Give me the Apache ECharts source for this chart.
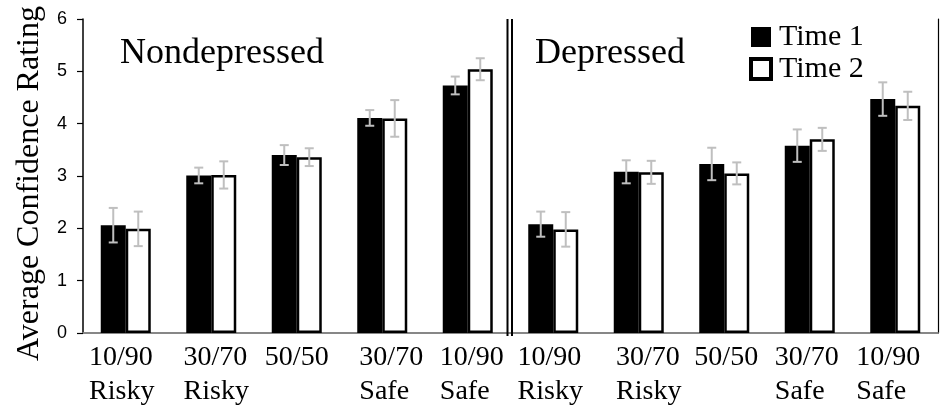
<!DOCTYPE html>
<html>
<head>
<meta charset="utf-8">
<script src="https://cdn.jsdelivr.net/npm/echarts@6/dist/echarts.min.js"></script>
<style>html,body{margin:0;padding:0;background:#fff}#c{width:949px;height:411px}</style>
</head>
<body>
<div id="c"></div>
<script>
var ratios = ['10/90', '30/70', '50/50', '30/70', '10/90', '10/90', '30/70', '50/50', '30/70', '10/90'];
var types  = ['Risky', 'Risky', '', 'Safe', 'Safe', 'Risky', 'Risky', '', 'Safe', 'Safe'];
var time1 = [2.06, 3.01, 3.40, 4.11, 4.73, 2.08, 3.08, 3.23, 3.58, 4.47];
var time2 = [1.99, 3.02, 3.36, 4.10, 5.04, 1.98, 3.07, 3.05, 3.70, 4.34];
var err1  = [0.33, 0.15, 0.19, 0.15, 0.17, 0.24, 0.22, 0.31, 0.31, 0.32];
var err2  = [0.33, 0.26, 0.17, 0.35, 0.21, 0.33, 0.22, 0.21, 0.22, 0.27];
var yTicks = [0, 1, 2, 3, 4, 5, 6];
var seriesNames = ['Time 1', 'Time 2'];
var panelNames = ['Nondepressed', 'Depressed'];
var yTitle = 'Average Confidence Rating';

var categories = ratios.map(function (r, i) { return types[i] ? r + '\n' + types[i] : r; });

var SERIF = '"Liberation Serif", "Times New Roman", serif';
var SANS = '"Liberation Sans", Arial, sans-serif';
var BAR_W = 25;
// small horizontal nudges of the category label text boxes (layout only)
var LABEL_NUDGE = [-4, 5, 0, 9, 4, -3, 10, 2, -3, -7];

var richStyles = {};
LABEL_NUDGE.forEach(function (d, i) {
  richStyles['p' + i] = {
    fontFamily: SERIF, fontSize: 28, lineHeight: 34, color: '#000', align: 'left',
    padding: d >= 0 ? [0, 0, 0, 2 * d] : [0, -2 * d, 0, 0]
  };
});

function errData(vals, errs) {
  return vals.map(function (v, i) { return [i, v, errs[i]]; });
}
function errRender(offset) {
  return function (params, api) {
    var i = api.value(0), v = api.value(1), e = api.value(2);
    var top = api.coord([i, v + e]);
    var bot = api.coord([i, v - e]);
    var x = top[0] + offset;
    var cap = 4.5;
    var st = { stroke: '#BFBFBF', lineWidth: 2 };
    return { type: 'group', children: [
      { type: 'line', shape: { x1: x, y1: top[1], x2: x, y2: bot[1] }, style: st },
      { type: 'line', shape: { x1: x - cap, y1: top[1], x2: x + cap, y2: top[1] }, style: st },
      { type: 'line', shape: { x1: x - cap, y1: bot[1], x2: x + cap, y2: bot[1] }, style: st }
    ]};
  };
}

var chart = echarts.init(document.getElementById('c'), null, { renderer: 'canvas' });
chart.setOption({
  animation: false,
  backgroundColor: '#ffffff',
  grid: { left: 83, right: 11, top: 19, bottom: 78, containLabel: false },
  title: [
    { text: panelNames[0], left: 120, top: 36, padding: 0, textStyle: { fontFamily: SERIF, fontSize: 36, fontWeight: 'normal', color: '#000' } },
    { text: panelNames[1], left: 535, top: 36, padding: 0, textStyle: { fontFamily: SERIF, fontSize: 36, fontWeight: 'normal', color: '#000' } }
  ],
  legend: {
    orient: 'vertical', left: 749, top: 22, padding: 0, itemGap: 2,
    itemWidth: 20, itemHeight: 20,
    textStyle: { fontFamily: SERIF, fontSize: 30, color: '#000', lineHeight: 30, padding: [0, 0, 0, 3] },
    data: [
      { name: seriesNames[0], icon: 'rect', itemStyle: { color: '#000', borderWidth: 0 } },
      { name: seriesNames[1], icon: 'rect', itemStyle: { color: '#fff', borderColor: '#000', borderWidth: 4 } }
    ]
  },
  xAxis: [
    {
      type: 'category', data: categories, position: 'bottom',
      axisLine: { lineStyle: { color: '#808080', width: 1.5 } },
      axisTick: { show: false },
      axisLabel: {
        interval: 0, margin: 8,
        formatter: function (val, idx) {
          return val.split('\n').map(function (s) { return '{p' + idx + '|' + s + '}'; }).join('\n');
        },
        rich: richStyles
      }
    },
    {
      type: 'category', data: categories, position: 'top',
      axisLine: { lineStyle: { color: '#808080', width: 1.5 } },
      axisTick: { show: false }, axisLabel: { show: false }
    }
  ],
  yAxis: [
    {
      type: 'value', min: 0, max: 6, interval: 1, position: 'left',
      axisLine: { show: true, lineStyle: { color: '#000', width: 1.5 } },
      axisTick: { show: true, length: 6, lineStyle: { color: '#000', width: 1.2 } },
      splitLine: { show: false },
      axisLabel: { margin: 16, fontFamily: SANS, fontSize: 18, color: '#000',
        formatter: function (v) { return yTicks.indexOf(v) >= 0 ? String(v) : ''; } },
      name: yTitle, nameLocation: 'middle', nameGap: 37, nameRotate: 90,
      nameTextStyle: { fontFamily: SERIF, fontSize: 32, color: '#000', padding: [0, 15, 0, 0] }
    },
    {
      type: 'value', min: 0, max: 6, interval: 1, position: 'right',
      axisLine: { show: true, lineStyle: { color: '#000', width: 1.2 } },
      axisTick: { show: false }, axisLabel: { show: false }, splitLine: { show: false }
    }
  ],
  series: [
    { name: seriesNames[0], type: 'bar', data: time1, barWidth: BAR_W, barGap: '0%',
      itemStyle: { color: '#000' } },
    { name: seriesNames[1], type: 'bar', data: time2, barWidth: BAR_W, barGap: '0%',
      itemStyle: { color: '#fff', borderColor: '#000', borderWidth: 2.5 } },
    { name: 'err1', type: 'custom', data: errData(time1, err1), renderItem: errRender(-BAR_W / 2), z: 5, silent: true },
    { name: 'err2', type: 'custom', data: errData(time2, err2), renderItem: errRender(BAR_W / 2), z: 5, silent: true },
    { name: 'divider', type: 'custom', data: [[4, 0]], z: 6, silent: true,
      renderItem: function (params, api) {
        var a = api.coord([4, 0]), b = api.coord([5, 0]);
        var mid = (a[0] + b[0]) / 2;
        var yTop = api.coord([4, 6])[1];
        var yBot = a[1] + 3;
        var st = { stroke: '#000', lineWidth: 2 };
        return { type: 'group', children: [
          { type: 'line', shape: { x1: mid - 3, y1: yTop, x2: mid - 3, y2: yBot }, style: st },
          { type: 'line', shape: { x1: mid + 1.5, y1: yTop, x2: mid + 1.5, y2: yBot }, style: st }
        ]};
      }
    }
  ]
});
</script>
</body>
</html>
